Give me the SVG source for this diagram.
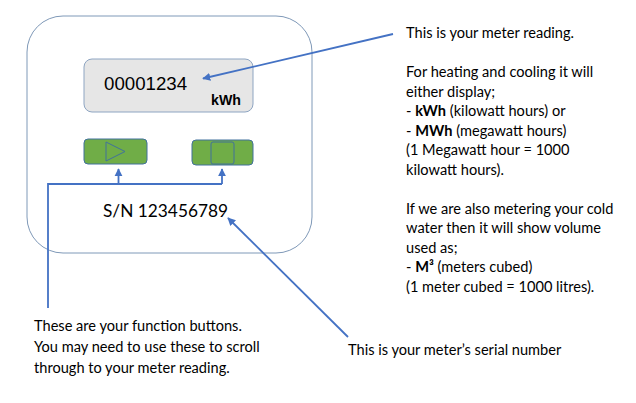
<svg xmlns="http://www.w3.org/2000/svg" width="636" height="403" viewBox="0 0 636 403">
<defs>
<marker id="ah" viewBox="0 0 10 10" refX="9" refY="5" markerWidth="4.5" markerHeight="4.5" orient="auto" markerUnits="strokeWidth">
<path d="M0,0 L10,5 L0,10 z" fill="#4472c4"/>
</marker>
<style>
.t{font-family:Lato,"Liberation Sans",sans-serif;font-size:14.6px;fill:#000}
.b{font-weight:bold}
.c{fill:none;stroke:#4472c4;stroke-width:1.8}
.btn{fill:#70ad47;stroke:#41719c;stroke-width:1}
.sym{fill:none;stroke:#41719c;stroke-width:1}
</style>
</defs>
<rect width="636" height="403" fill="#fff"/>
<g id="meter">
<rect x="27" y="16" width="285" height="237" rx="36" ry="36" fill="#fff" stroke="#7f99b8" stroke-width="1"/>
</g>
<g id="display">
<rect x="84" y="59" width="169" height="53" rx="8" ry="8" fill="#e6e6e6" stroke="#8ea5c2" stroke-width="1"/>
<text x="104" y="90" style="font-family:'Liberation Sans',Arial,sans-serif;font-size:18.7px">00001234</text>
<text x="211" y="105" style="font-family:'Liberation Sans',Arial,sans-serif;font-size:14.2px;font-weight:bold">kWh</text>
</g>
<g id="button-play">
<rect class="btn" x="84" y="139" width="63" height="25" rx="4" ry="4"/>
<path class="sym" d="M106,142 L106,161 L125,151.5 z"/>
</g>
<g id="button-stop">
<rect class="btn" x="192" y="140" width="61" height="25" rx="4" ry="4"/>
<rect class="sym" x="211" y="142" width="23" height="22" rx="2" ry="2"/>
</g>
<g id="serial">
<text class="t" x="103" y="217" style="font-size:17.3px">S/N 123456789</text>
</g>
<g id="connectors">
<line class="c" x1="393" y1="34" x2="203" y2="78.5" marker-end="url(#ah)"/>
<line class="c" x1="348" y1="337" x2="228" y2="218" marker-end="url(#ah)"/>
<path class="c" d="M48,308 V184 H222"/>
<line class="c" x1="118.5" y1="184" x2="118.5" y2="169" marker-end="url(#ah)"/>
<line class="c" x1="222" y1="184" x2="222" y2="169" marker-end="url(#ah)"/>
</g>
<g id="label-reading">
<text class="t" x="406" y="38">This is your meter reading.</text>
<text class="t" x="406" y="77">For heating and cooling it will</text>
<text class="t" x="406" y="96.5">either display;</text>
<text class="t" x="406" y="116">- <tspan class="b">kWh</tspan> (kilowatt hours) or</text>
<text class="t" x="406" y="135.5">- <tspan class="b">MWh</tspan> (megawatt hours)</text>
<text class="t" x="406" y="155">(1 Megawatt hour = 1000</text>
<text class="t" x="406" y="174.5">kilowatt hours).</text>
<text class="t" x="406" y="213.5">If we are also metering your cold</text>
<text class="t" x="406" y="233">water then it will show volume</text>
<text class="t" x="406" y="252.5">used as;</text>
<text class="t" x="406" y="272">- <tspan class="b">M³</tspan> (meters cubed)</text>
<text class="t" x="406" y="291.5">(1 meter cubed = 1000 litres).</text>
</g>
<g id="label-buttons">
<text class="t" x="34" y="331">These are your function buttons.</text>
<text class="t" x="34" y="352">You may need to use these to scroll</text>
<text class="t" x="34" y="373">through to your meter reading.</text>
</g>
<g id="label-serial">
<text class="t" x="348" y="355">This is your meter’s serial number</text>
</g>
</svg>
